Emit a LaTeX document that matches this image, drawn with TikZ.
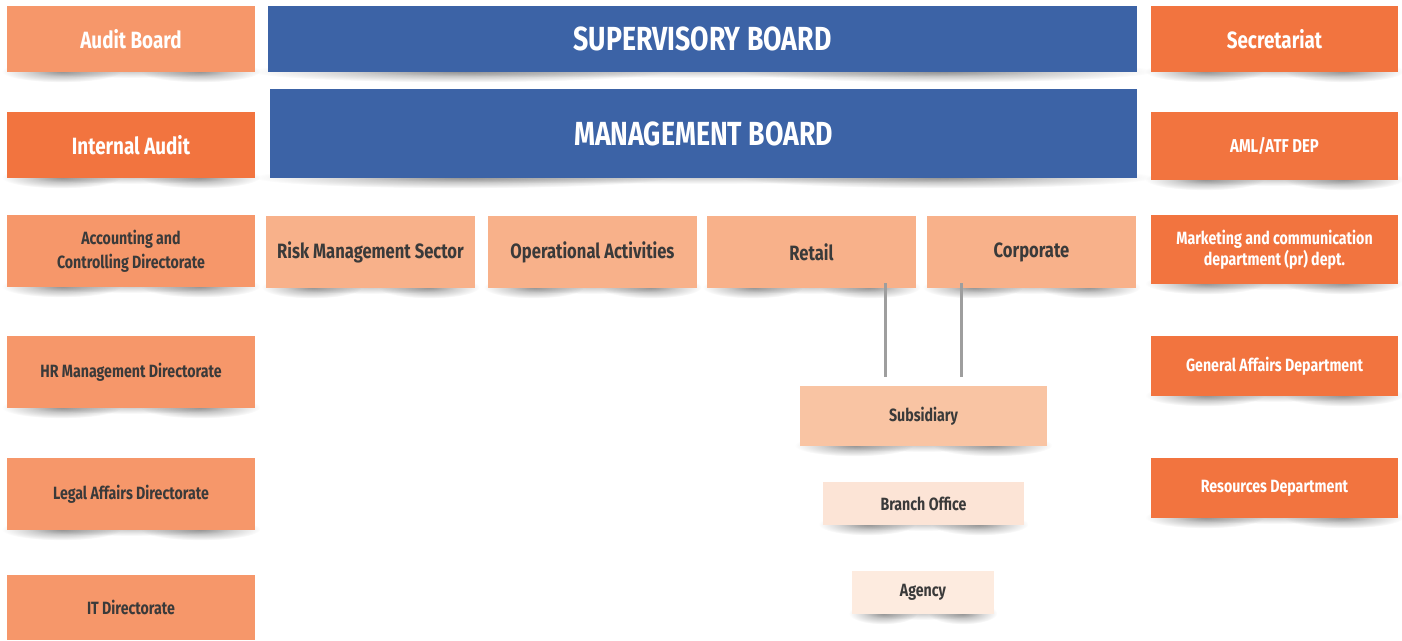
\documentclass[tikz,border=0pt]{standalone}
\usepackage{fontspec}
\setmainfont{Fira Sans}[FakeStretch=0.8]
\usepackage{xcolor}
\usepackage{tikz}
\usetikzlibrary{calc,fadings,backgrounds}

\definecolor{boardblue}{HTML}{3C63A6}
\definecolor{lightorange}{HTML}{F6976A}
\definecolor{darkorange}{HTML}{F2743F}
\definecolor{peach}{HTML}{F8B18A}
\definecolor{subsfill}{HTML}{F9C4A3}
\definecolor{branchfill}{HTML}{FCE4D6}
\definecolor{agencyfill}{HTML}{FDEBDF}
\definecolor{darktext}{HTML}{3A3A3A}

\tikzfading[name=softblob, inner color=transparent!0, outer color=transparent!100]

% soft lifted shadow under a box
\newcommand\lift[1]{%
  \path[fill=black, opacity=0.2, path fading=softblob]
    let \p1=(#1.south west), \p2=(#1.south east) in
    ($(\p1)!0.5!(\p2)+(0,-1)$) ellipse [x radius={0.42*(\x2-\x1)}, y radius=0.13cm];
  \path[fill=black, opacity=0.38, path fading=softblob]
    let \p1=(#1.south west), \p2=(#1.south east) in
    ($(\p1)!0.22!(\p2)+(0,-1)$) ellipse [x radius={0.24*(\x2-\x1)}, y radius=0.22cm];
  \path[fill=black, opacity=0.38, path fading=softblob]
    let \p1=(#1.south west), \p2=(#1.south east) in
    ($(\p1)!0.78!(\p2)+(0,-1)$) ellipse [x radius={0.24*(\x2-\x1)}, y radius=0.22cm];
}

\begin{document}
\begin{tikzpicture}[x=0.02cm,y=-0.02cm]
  \tikzstyle{every node}+=[inner sep=0pt, align=center]
  \tikzstyle{bigtext}=[text=white, font=\fontsize{19}{22}\selectfont\bfseries]
  \tikzstyle{headtext}=[text=white, font=\fontsize{13.4}{16}\selectfont\bfseries]
  \tikzstyle{smallwhite}=[text=white, font=\fontsize{10.1}{10.5}\selectfont\bfseries]
  \tikzstyle{smalldark}=[text=darktext, font=\fontsize{10.1}{13.5}\selectfont\bfseries]
  \tikzstyle{middark}=[text=darktext, font=\fontsize{11.8}{14}\selectfont\bfseries]
  \tikzstyle{sidebox}=[minimum width=4.96cm]
  \tikzstyle{unitbox}=[fill=peach, middark, minimum width=4.18cm, minimum height=1.44cm]
  \tikzstyle{link}=[draw=black!38, line width=1.2pt, shorten <=-0.1cm, shorten >=0.18cm]

  \useasboundingbox (0,0) rectangle (1402,641);

  % boards
  \node[fill=boardblue, bigtext, minimum width=17.38cm, minimum height=1.32cm] (superv) at (702.5,39) {SUPERVISORY BOARD};
  \node[fill=boardblue, bigtext, minimum width=17.34cm, minimum height=1.78cm] (mgmt) at (703.5,133.5) {MANAGEMENT BOARD};

  % left column
  \node[sidebox, fill=lightorange, headtext, minimum height=1.32cm] (audit) at (131,39) {Audit Board};
  \node[sidebox, fill=darkorange, headtext, minimum height=1.32cm] (intaudit) at (131,145) {Internal Audit};
  \node[sidebox, fill=lightorange, smalldark, minimum height=1.44cm] (acct) at (131,251) {Accounting and\\Controlling Directorate};
  \node[sidebox, fill=lightorange, smalldark, minimum height=1.44cm] (hr) at (131,372) {HR Management Directorate};
  \node[sidebox, fill=lightorange, smalldark, minimum height=1.44cm] (legal) at (131,494) {Legal Affairs Directorate};
  \node[sidebox, fill=lightorange, smalldark, minimum height=1.3cm] (itdir) at (131,607.5) {IT Directorate};

  % right column
  \node[sidebox, fill=darkorange, headtext, minimum height=1.32cm] (secr) at (1274.5,39) {Secretariat};
  \node[sidebox, fill=darkorange, smallwhite, font=\fontsize{10.6}{11}\selectfont\bfseries, minimum height=1.36cm] (aml) at (1274.5,146) {AML/ATF DEP};
  \node[sidebox, fill=darkorange, smallwhite, minimum height=1.38cm] (mkt) at (1274.5,249.5) {Marketing and communication\\department (pr) dept.};
  \node[sidebox, fill=darkorange, smallwhite, minimum height=1.2cm] (genaff) at (1274.5,366) {General Affairs Department};
  \node[sidebox, fill=darkorange, smallwhite, minimum height=1.2cm] (resdep) at (1274.5,488) {Resources Department};

  % business units
  \node[unitbox] (risk) at (370.5,252) {Risk Management Sector};
  \node[unitbox] (oper) at (592.5,252) {Operational Activities};
  \node[unitbox] (retail) at (811.5,252) {Retail};
  \node[unitbox] (corp) at (1031.5,252) {Corporate};

  % network
  \node[fill=subsfill, smalldark, minimum width=4.94cm, minimum height=1.2cm] (subs) at (923.5,416) {Subsidiary};
  \node[fill=branchfill, smalldark, minimum width=4.02cm, minimum height=0.86cm] (branch) at (923.5,503.5) {Branch Office};
  \node[fill=agencyfill, smalldark, minimum width=2.84cm, minimum height=0.86cm] (agency) at (923,592.5) {Agency};

  \path ([xshift=-0.76cm]subs.north) coordinate (suba)
        ([xshift=0.76cm]subs.north) coordinate (subb);
  \draw[link] (retail.south -| suba) -- (suba);
  \draw[link] (corp.south -| subb) -- (subb);

  \begin{scope}[on background layer]
    \foreach \bx in {superv,mgmt,audit,intaudit,acct,hr,legal,secr,aml,mkt,genaff,resdep,risk,oper,retail,corp,subs,branch,agency}
      {\lift{\bx}}
  \end{scope}
\end{tikzpicture}
\end{document}
